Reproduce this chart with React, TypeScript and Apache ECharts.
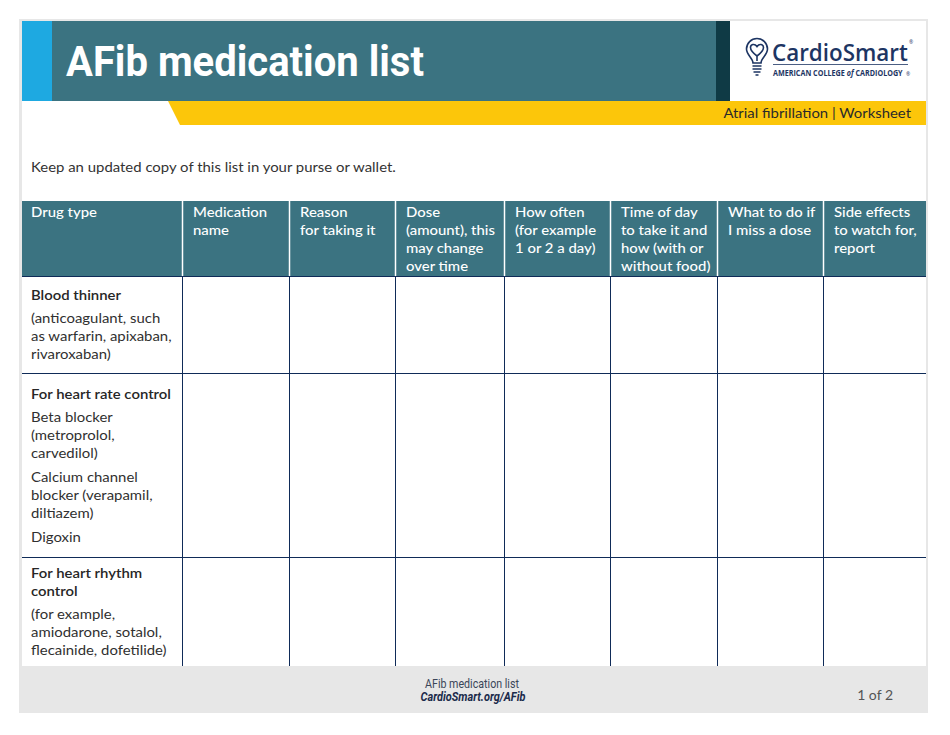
import React, { useEffect, useRef } from "react";
import * as echarts from "echarts";

// ---------- content ----------
const TITLE = "AFib medication list";
const SUBTITLE = "Atrial fibrillation | Worksheet";
const INTRO = "Keep an updated copy of this list in your purse or wallet.";
const BRAND = "CardioSmart";
const BRAND_SUB_A = "AMERICAN COLLEGE ";
const BRAND_SUB_B = "of";
const BRAND_SUB_C = " CARDIOLOGY";
const FOOTER_TITLE = "AFib medication list";
const FOOTER_URL = "CardioSmart.org/AFib";
const PAGE_LABEL = "1 of 2";

const HEADER_COLUMNS: string[][] = [
  ["Drug type"],
  ["Medication", "name"],
  ["Reason", "for taking it"],
  ["Dose", "(amount), this", "may change", "over time"],
  ["How often", "(for example", "1 or 2 a day)"],
  ["Time of day", "to take it and", "how (with or", "without food)"],
  ["What to do if", "I miss a dose"],
  ["Side effects", "to watch for,", "report"],
];

const ROW_HEADINGS: string[][] = [
  ["Blood thinner"],
  ["For heart rate control"],
  ["For heart rhythm", "control"],
];

const ROW_NOTES: string[][][] = [
  [["(anticoagulant, such", "as warfarin, apixaban,", "rivaroxaban)"]],
  [
    ["Beta blocker", "(metroprolol,", "carvedilol)"],
    ["Calcium channel", "blocker (verapamil,", "diltiazem)"],
    ["Digoxin"],
  ],
  [["(for example,", "amiodarone, sotalol,", "flecainide, dofetilide)"]],
];

// ---------- layout ----------
const COL_X = [22, 182, 289, 395, 504, 610, 717, 823, 926];
const ROW_Y = [276, 373, 557, 666];
const ROW_TEXT_Y = [295, 394, 573];
const HEAD_TOP = 201;
const LINE_H = 18;
const PARA_GAP = 5;

const TEAL = "#3b7381";
const NAVY = "#0f2b58";
const INK = "#303030";
const BODY_FONT = "Lato";

function measure(text: string, font: string): number {
  const c = document.createElement("canvas").getContext("2d");
  if (!c) return 1;
  c.font = font;
  return c.measureText(text).width || 1;
}

function txt(
  text: string,
  x: number,
  y: number,
  o: {
    size: number;
    family?: string;
    weight?: string | number;
    style?: string;
    fill?: string;
    align?: string;
    scaleX?: number;
    vAlign?: string;
  }
) {
  const align = o.align || "left";
  const vAlign = o.vAlign || "middle";
  return {
    type: "text",
    x,
    y,
    scaleX: o.scaleX || 1,
    silent: true,
    style: {
      text,
      fill: o.fill || INK,
      fontSize: o.size,
      fontFamily: o.family || BODY_FONT,
      fontWeight: o.weight || "normal",
      fontStyle: o.style || "normal",
      align,
      textAlign: align,
      verticalAlign: vAlign,
      textVerticalAlign: vAlign,
    },
  };
}

function fitScale(text: string, font: string, target: number) {
  return target / measure(text, font);
}

const BULB =
  "M8,25 C8,20 1.5,17 1.5,11 A10.5,10.5 0 1,1 22.5,11 C22.5,17 16,20 16,25 Z " +
  "M12,23 L12,18 C8,15 5.5,12.5 5.5,9.5 C5.5,6.5 9.5,5 12,8.5 C14.5,5 18.5,6.5 18.5,9.5 C18.5,12.5 16,15 12,18 " +
  "M7.5,28 L16.5,28 M7.5,31 L16.5,31 M8.5,34 L15.5,34 M10.5,37 L13.5,37";

let registered = false;
function registerShapes() {
  if (registered) return;
  registered = true;
  echarts.graphic.registerShape("bulb", (echarts.graphic as any).extendPath(BULB, {}));
}

function buildGraphic() {
  const els: any[] = [];
  // page frame
  els.push({ type: "rect", shape: { x: 19, y: 19, width: 909, height: 694 }, style: { fill: "#e7e7e7" } });
  els.push({ type: "rect", shape: { x: 22, y: 21, width: 904, height: 645 }, style: { fill: "#ffffff" } });

  // banner
  els.push({ type: "rect", shape: { x: 22, y: 21, width: 30, height: 80 }, style: { fill: "#1ea9e1" } });
  els.push({ type: "rect", shape: { x: 52, y: 21, width: 664, height: 80 }, style: { fill: TEAL } });
  els.push({ type: "rect", shape: { x: 716, y: 21, width: 14, height: 80 }, style: { fill: "#0f3a45" } });
  els.push({
    type: "polygon",
    shape: { points: [[168, 101], [926, 101], [926, 125], [180, 125]] },
    style: { fill: "#fcc60a" },
  });

  const titleFont = "bold 42px Roboto";
  els.push(
    txt(TITLE, 66, 62, {
      size: 42,
      family: "Roboto",
      weight: "bold",
      fill: "#ffffff",
      scaleX: fitScale(TITLE, titleFont, 358),
    })
  );

  // logo
  els.push({
    type: "bulb",
    x: 745,
    y: 38,
    scaleX: 1,
    scaleY: 1,
    style: { fill: "none", stroke: "#1d3563", lineWidth: 1.6 },
  });
  const brandFont = "600 23px 'Open Sans'";
  els.push(
    txt(BRAND, 772, 52, {
      size: 23,
      family: "Open Sans",
      weight: 600,
      fill: "#1d3563",
      scaleX: fitScale(BRAND, brandFont, 136),
    })
  );
  els.push(txt("®", 909, 42, { size: 5, family: "Open Sans", fill: "#1d3563" }));
  els.push({ type: "line", shape: { x1: 773, y1: 64.5, x2: 908, y2: 64.5 }, style: { stroke: "#1d3563", lineWidth: 0.8 } });
  const accText = BRAND_SUB_A + BRAND_SUB_B + BRAND_SUB_C;
  const accScale = fitScale(accText, "bold 8px 'Open Sans'", 130);
  els.push({
    type: "text",
    x: 773,
    y: 73,
    scaleX: accScale,
    silent: true,
    style: {
      text: "{a|" + BRAND_SUB_A + "}{b|" + BRAND_SUB_B + "}{a|" + BRAND_SUB_C + "}",
      align: "left",
      textAlign: "left",
      verticalAlign: "middle",
      textVerticalAlign: "middle",
      rich: {
        a: { fontSize: 8, fontFamily: "Open Sans", fontWeight: "bold", fill: "#1d3563", color: "#1d3563" },
        b: { fontSize: 8, fontFamily: "Open Sans", fontWeight: "bold", fontStyle: "italic", fill: "#1d3563", color: "#1d3563" },
      },
    },
  });
  els.push(txt("®", 906, 74, { size: 5, family: "Open Sans", fill: "#1d3563" }));

  // subtitle
  els.push(
    txt(SUBTITLE, 911, 113, {
      size: 14,
      fill: "#2a2a2a",
      align: "right",
      scaleX: fitScale(SUBTITLE, `14px ${BODY_FONT}`, 188),
    })
  );

  // intro
  const bodyScale = fitScale(INTRO, `14px ${BODY_FONT}`, 367);
  els.push(txt(INTRO, 31, 167, { size: 14, fill: "#333333", scaleX: bodyScale }));

  // table header
  els.push({
    type: "rect",
    shape: { x: COL_X[0], y: HEAD_TOP, width: COL_X[COL_X.length - 1] - COL_X[0], height: ROW_Y[0] - HEAD_TOP },
    style: { fill: TEAL },
  });
  HEADER_COLUMNS.forEach((lines, i) => {
    const x = COL_X[i] + (i === 0 ? 9 : 11);
    lines.forEach((ln, j) => {
      els.push(txt(ln, x, HEAD_TOP + 11 + j * LINE_H, { size: 14, weight: 500, fill: "#ffffff", scaleX: bodyScale }));
    });
  });
  // column separators
  for (let i = 1; i < COL_X.length - 1; i++) {
    const cx = COL_X[i] + 0.5;
    els.push({
      type: "line",
      shape: { x1: cx, y1: HEAD_TOP, x2: cx, y2: ROW_Y[0] },
      style: { stroke: "#ffffff", lineWidth: 1.5 },
    });
    els.push({
      type: "line",
      shape: { x1: cx, y1: ROW_Y[0], x2: cx, y2: ROW_Y[ROW_Y.length - 1] },
      style: { stroke: NAVY, lineWidth: 1 },
    });
  }
  for (let r = 0; r < ROW_Y.length - 1; r++) {
    const ry = ROW_Y[r] + 0.5;
    els.push({
      type: "line",
      shape: { x1: COL_X[0], y1: ry, x2: COL_X[COL_X.length - 1], y2: ry },
      style: { stroke: NAVY, lineWidth: 1 },
    });
  }

  // row texts
  ROW_HEADINGS.forEach((heading, r) => {
    let y = ROW_TEXT_Y[r];
    heading.forEach((ln, j) => {
      els.push(txt(ln, 31, y + j * LINE_H, { size: 14, weight: 600, fill: "#262626", scaleX: bodyScale }));
    });
    y += (heading.length - 1) * LINE_H + LINE_H + PARA_GAP;
    ROW_NOTES[r].forEach((para) => {
      para.forEach((ln, j) => {
        els.push(txt(ln, 31, y + j * LINE_H, { size: 14, fill: INK, scaleX: bodyScale }));
      });
      y += para.length * LINE_H + PARA_GAP + 1;
    });
  });

  // footer
  els.push(
    txt(FOOTER_TITLE, 472, 684, {
      size: 12,
      family: "Roboto",
      fill: "#3a4658",
      align: "center",
      scaleX: fitScale(FOOTER_TITLE, "12px Roboto", 94),
    })
  );
  els.push(
    txt(FOOTER_URL, 473, 697, {
      size: 12,
      family: "Roboto",
      weight: "bold",
      style: "italic",
      fill: "#1b2b4b",
      align: "center",
      scaleX: fitScale(FOOTER_URL, "italic bold 12px Roboto", 105),
    })
  );
  els.push(txt(PAGE_LABEL, 893, 694, { size: 14, fill: "#555555", align: "right" }));

  return els;
}

export default function App() {
  const ref = useRef<HTMLDivElement>(null);
  useEffect(() => {
    if (!ref.current) return;
    registerShapes();
    const chart = echarts.init(ref.current, undefined, { renderer: "svg" });
    chart.setOption({
      animation: false,
      backgroundColor: "#ffffff",
      graphic: { elements: buildGraphic() },
    });
    return () => chart.dispose();
  }, []);
  return (
    <div
      ref={ref}
      style={{ position: "fixed", left: 0, top: 0, width: 950, height: 735, background: "#ffffff" }}
    />
  );
}
